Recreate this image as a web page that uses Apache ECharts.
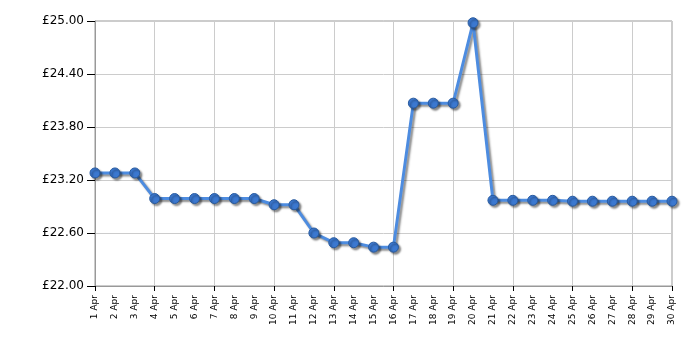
<!DOCTYPE html>
<html>
<head>
<meta charset="utf-8">
<script src="https://cdn.jsdelivr.net/npm/echarts@6/dist/echarts.min.js"></script>
<style>html,body{margin:0;padding:0;background:#fff}#c{width:700px;height:350px}</style>
</head>
<body>
<div id="c"></div>
<script>
const categories = ['1 Apr','2 Apr','3 Apr','4 Apr','5 Apr','6 Apr','7 Apr','8 Apr','9 Apr','10 Apr','11 Apr','12 Apr','13 Apr','14 Apr','15 Apr','16 Apr','17 Apr','18 Apr','19 Apr','20 Apr','21 Apr','22 Apr','23 Apr','24 Apr','25 Apr','26 Apr','27 Apr','28 Apr','29 Apr','30 Apr'];
const prices = [23.28,23.28,23.28,22.99,22.99,22.99,22.99,22.99,22.99,22.92,22.92,22.60,22.49,22.49,22.44,22.44,24.07,24.07,24.07,24.98,22.97,22.97,22.97,22.97,22.96,22.96,22.96,22.96,22.96,22.96];
const yMin = 22.0, yMax = 25.0, yStep = 0.6;

const chart = echarts.init(document.getElementById('c'), null, {renderer:'canvas'});
chart.setOption({
  animation:false,
  grid:{left:95,right:28,top:21,bottom:64,show:true,borderColor:'#999',borderWidth:1,backgroundColor:'transparent'},
  xAxis:{
    type:'category', data:categories, boundaryGap:false,
    axisLine:{show:true,lineStyle:{color:'#999',width:1}},
    axisTick:{show:true,interval:2,length:5,lineStyle:{color:'#000'}},
    axisLabel:{interval:0,rotate:90,fontFamily:'DejaVu Sans',fontSize:9,color:'#000',margin:9},
    splitLine:{show:true,interval:2,lineStyle:{color:'#ccc',width:1}}
  },
  yAxis:{
    type:'value', min:yMin, max:yMax, interval:yStep,
    axisLine:{show:true,lineStyle:{color:'#999',width:1}},
    axisTick:{show:true,length:8,lineStyle:{color:'#000'}},
    axisLabel:{fontFamily:'DejaVu Sans',fontSize:12,color:'#000',margin:11,formatter:v=>'£'+v.toFixed(2)},
    splitLine:{show:true,lineStyle:{color:'#ccc',width:1}}
  },
  series:[{
    type:'line', data:prices, symbol:'circle', symbolSize:10,
    lineStyle:{color:'#4d8ce0',width:3,shadowColor:'rgba(0,0,0,0.45)',shadowBlur:2,shadowOffsetX:2,shadowOffsetY:2},
    itemStyle:{color:'#3b78d0',borderColor:'#285a9e',borderWidth:1,shadowColor:'rgba(0,0,0,0.45)',shadowBlur:2,shadowOffsetX:2,shadowOffsetY:2}
  }]
});
</script>
</body>
</html>
